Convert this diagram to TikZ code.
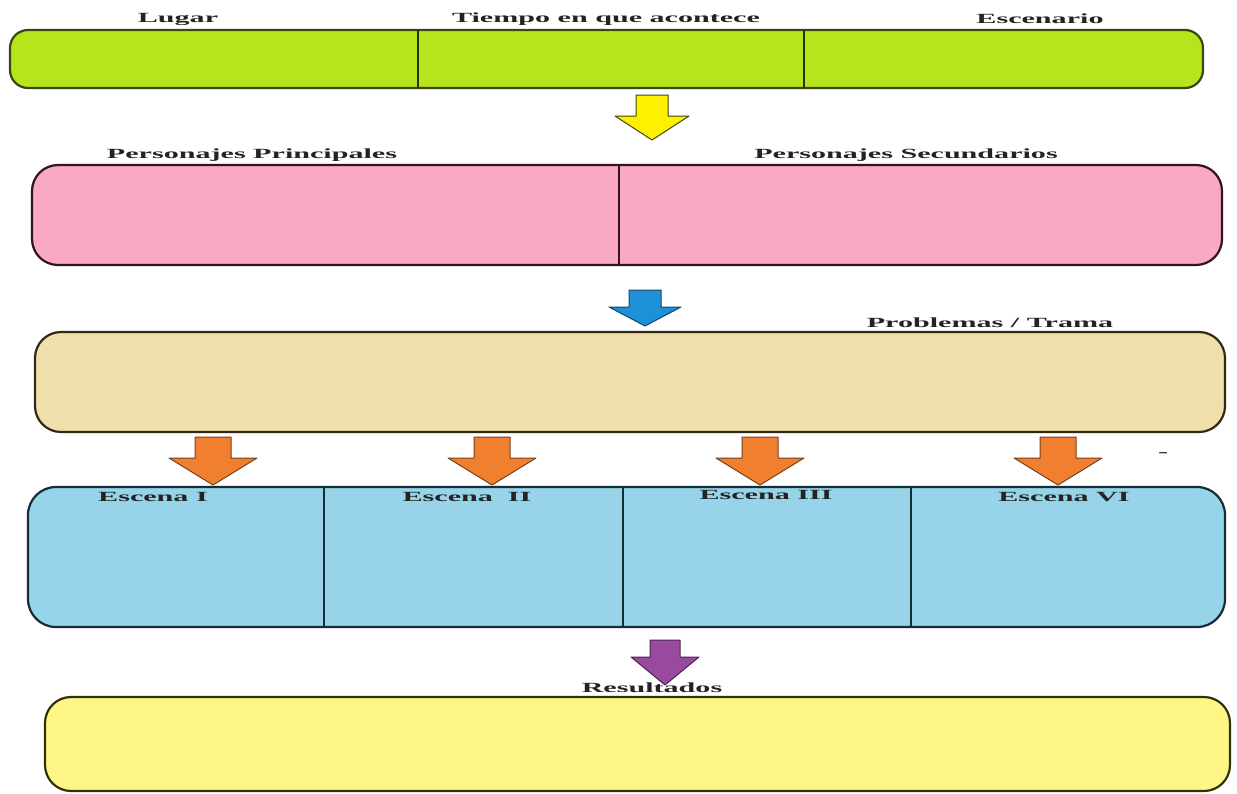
\documentclass[tikz,border=0pt]{standalone}
\usepackage{fontspec}
\newfontfamily\lblfont[FakeStretch=2.15]{Liberation Serif}
\definecolor{gfill}{RGB}{181,229,29}
\definecolor{gline}{RGB}{60,70,15}
\definecolor{pfill}{RGB}{249,169,197}
\definecolor{pline}{RGB}{50,20,30}
\definecolor{bfill}{RGB}{238,223,171}
\definecolor{bline}{RGB}{50,40,20}
\definecolor{cfill}{RGB}{151,212,233}
\definecolor{cline}{RGB}{20,45,55}
\definecolor{yfill}{RGB}{255,247,133}
\definecolor{yline}{RGB}{50,50,10}
\definecolor{ayel}{RGB}{255,240,0}
\definecolor{ablu}{RGB}{30,144,216}
\definecolor{aora}{RGB}{240,128,48}
\definecolor{apur}{RGB}{154,74,158}
\definecolor{txt}{RGB}{35,35,35}
\tikzset{
  box/.style={rectangle, line width=2.2pt, anchor=north west, inner sep=0pt, outer sep=0pt},
  divline/.style={line width=1.6pt},
  lbl/.style={font=\lblfont\bfseries\fontsize{14}{16}\selectfont, text=txt, inner sep=0pt},
  barrow/.style={line width=1pt, line join=round},
}
\newcommand{\blockarrow}[8]{%
  \draw[barrow, fill=#7, draw=#8] (#1-#5,#2) -- (#1+#5,#2) -- (#1+#5,#4) -- (#1+#6,#4) -- (#1,#3) -- (#1-#6,#4) -- (#1-#5,#4) -- cycle;}
\begin{document}
\begin{tikzpicture}[x=1pt,y=-1pt]
\useasboundingbox[fill=white] (0,0) rectangle (1237,793);
% boxes
\node[box, draw=gline, fill=gfill, rounded corners=18pt, minimum width=1193pt, minimum height=58pt] (place) at (10,30) {};
\node[box, draw=pline, fill=pfill, rounded corners=26pt, minimum width=1190pt, minimum height=100pt] (chars) at (32,165) {};
\node[box, draw=bline, fill=bfill, rounded corners=26pt, minimum width=1190pt, minimum height=100pt] (plot) at (35,332) {};
\node[box, draw=cline, fill=cfill, rounded corners=28pt, minimum width=1197pt, minimum height=140pt] (scenes) at (28,487) {};
\node[box, draw=yline, fill=yfill, rounded corners=26pt, minimum width=1185pt, minimum height=94pt] (result) at (45,697) {};
% dividers
\coordinate (g1) at (418,0); \coordinate (g2) at (804,0);
\draw[divline, draw=gline!70!black] (place.north -| g1) -- (place.south -| g1);
\draw[divline, draw=gline!70!black] (place.north -| g2) -- (place.south -| g2);
\coordinate (p1) at (619,0);
\draw[divline, draw=pline] (chars.north -| p1) -- (chars.south -| p1);
\coordinate (s1) at (324,0); \coordinate (s2) at (623,0); \coordinate (s3) at (911,0);
\draw[divline, draw=cline] (scenes.north -| s1) -- (scenes.south -| s1);
\draw[divline, draw=cline] (scenes.north -| s2) -- (scenes.south -| s2);
\draw[divline, draw=cline] (scenes.north -| s3) -- (scenes.south -| s3);
% block arrows
\blockarrow{652}{95}{140}{116}{16}{37}{ayel}{gline}
\blockarrow{645}{290}{326}{307}{16}{36}{ablu}{ablu!50!black}
\blockarrow{213}{437}{485}{458}{18}{44}{aora}{aora!50!black}
\blockarrow{492}{437}{485}{458}{18}{44}{aora}{aora!50!black}
\blockarrow{760}{437}{485}{458}{18}{44}{aora}{aora!50!black}
\blockarrow{1058}{437}{485}{458}{18}{44}{aora}{aora!50!black}
\blockarrow{665}{640}{685}{657}{15}{34}{apur}{apur!50!black}
% labels
\node[lbl] (l1) at (178,19) {Lugar};
\node[lbl] (l2) at (606,19) {Tiempo en que acontece};
\node[lbl] (l3) at (1040,19) {Escenario};
\node[lbl] (l4) at (252,155) {Personajes Principales};
\node[lbl] (l5) at (906,155) {Personajes Secundarios};
\node[lbl] (l6) at (990,323) {Problemas / Trama};
\node[lbl] (l7) at (153,497) {Escena I};
\node[lbl] (l8) at (467,497) {Escena\ \ II};
\node[lbl] (l9) at (766,495) {Escena III};
\node[lbl] (l10) at (1064,497) {Escena VI};
\node[lbl] (l11) at (652,688) {Resultados};
\node[lbl] (l12) at (1163,455) {-};
\end{tikzpicture}
\end{document}
